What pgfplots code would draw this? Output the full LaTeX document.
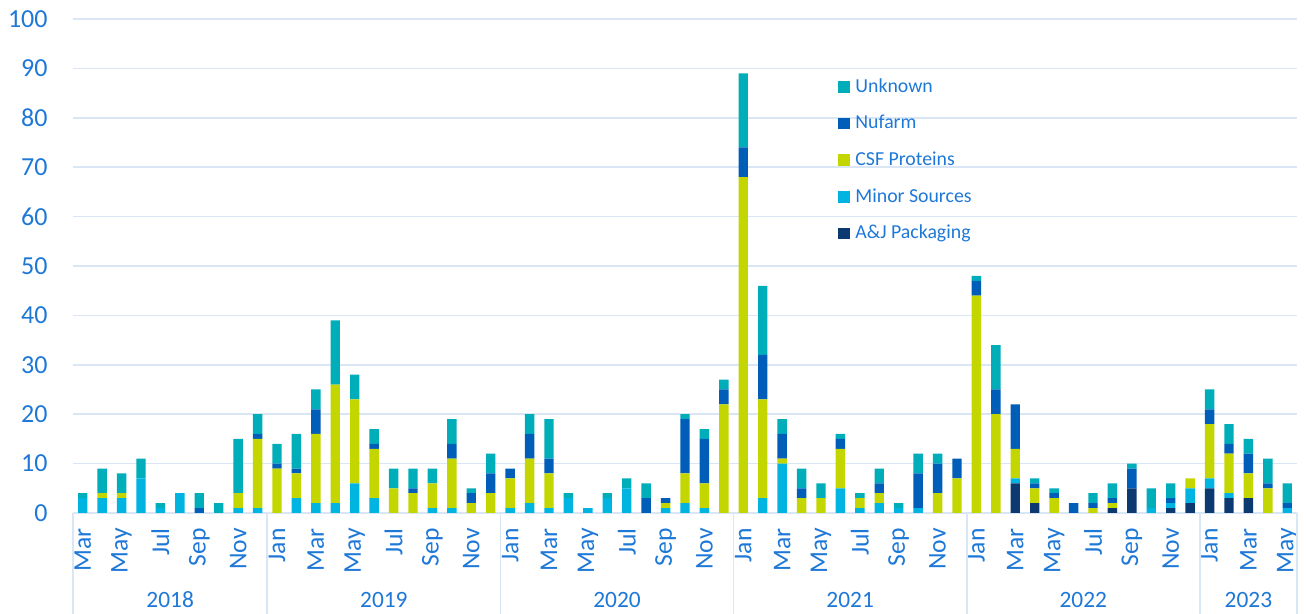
\documentclass[border=0pt]{standalone}
\usepackage{pgfplots}
\usepackage{pgfplotstable}
\pgfplotsset{compat=1.18}
\usepackage{fontspec}
\setmainfont{Carlito}
\definecolor{cUnk}{RGB}{0,174,186}
\definecolor{cNuf}{RGB}{0,94,184}
\definecolor{cCSF}{RGB}{196,214,0}
\definecolor{cMin}{RGB}{0,180,226}
\definecolor{cAJ}{RGB}{12,58,112}
\definecolor{cTxt}{RGB}{30,120,215}
\definecolor{cGrid}{RGB}{217,230,245}
\pgfplotstableread{
x aj mi csf nu un
0 0 3 0 0 1
1 0 3 1 0 5
2 0 3 1 0 4
3 0 7 0 0 4
4 0 1 0 0 1
5 0 4 0 0 0
6 0 0 0 1 3
7 0 0 0 0 2
8 0 1 3 0 11
9 0 1 14 1 4
10 0 0 9 1 4
11 0 3 5 1 7
12 0 2 14 5 4
13 0 2 24 0 13
14 0 6 17 0 5
15 0 3 10 1 3
16 0 0 5 0 4
17 0 0 4 1 4
18 0 1 5 0 3
19 0 1 10 3 5
20 0 0 2 2 1
21 0 0 4 4 4
22 0 1 6 2 0
23 0 2 9 5 4
24 0 1 7 3 8
25 0 3 0 0 1
26 0 1 0 0 0
27 0 3 0 0 1
28 0 5 0 0 2
29 0 0 0 3 3
30 0 1 1 1 0
31 0 2 6 11 1
32 0 1 5 9 2
33 0 0 22 3 2
34 0 0 68 6 15
35 0 3 20 9 14
36 0 10 1 5 3
37 0 0 3 2 4
38 0 0 3 0 3
39 0 5 8 2 1
40 0 1 2 0 1
41 0 2 2 2 3
42 0 1 0 0 1
43 0 1 0 7 4
44 0 0 4 6 2
45 0 0 7 4 0
46 0 0 44 3 1
47 0 0 20 5 9
48 6 1 6 9 0
49 2 0 3 1 1
50 0 0 3 1 1
51 0 0 0 2 0
52 0 0 1 1 2
53 1 0 1 1 3
54 5 0 0 4 1
55 0 1 0 0 4
56 1 1 0 1 3
57 2 3 2 0 0
58 5 2 11 3 4
59 3 1 8 2 4
60 3 0 5 4 3
61 0 0 5 1 5
62 0 1 0 1 4
}\data
\pgfplotsset{sqleg/.style={legend image code/.code={\fill[##1] (0pt,-2.9pt) rectangle (5.8pt,2.9pt);}}}
\tikzset{yr/.style={font=\fontsize{11.7}{14}\selectfont, text=cTxt, inner sep=0pt, yshift=-43.5pt}}
\begin{document}
\begin{tikzpicture}
\path[use as bounding box] (-36.5pt,-50.5pt) rectangle (616.5pt,256.5pt);
\begin{axis}[
  at={(0pt,0pt)}, anchor=south west,
  scale only axis, width=612pt, height=247pt,
  xmin=-0.5, xmax=62.5, ymin=0, ymax=100,
  ybar stacked, bar width=4.7pt,
  axis line style={draw=none},
  ymajorgrids, grid style={draw=cGrid, line width=0.8pt},
  ytick={0,10,...,100},
  major tick length=0pt,
  tick pos=left,
  /pgf/number format/assume math mode=true,
  yticklabel style={font=\fontsize{13}{15}\selectfont, text=cTxt, anchor=east, inner sep=0pt, xshift=-12.5pt},
  xtick={0,2,...,62},
  xticklabels={Mar,May,Jul,Sep,Nov,Jan,Mar,May,Jul,Sep,Nov,Jan,Mar,May,Jul,Sep,Nov,Jan,Mar,May,Jul,Sep,Nov,Jan,Mar,May,Jul,Sep,Nov,Jan,Mar,May},
  xticklabel style={font=\fontsize{12.8}{14}\selectfont, text=cTxt, yshift=-7.5pt, rotate=90, anchor=east, inner sep=0pt},
  extra x ticks={-0.5,9.5,21.5,33.5,45.5,57.5,62.5},
  extra x tick labels={},
  extra x tick style={major tick length=50.5pt, tick align=outside, tick style={draw=cGrid, line width=0.8pt}, xmajorgrids=false},
  clip=false,
  reverse legend,
  legend cell align=left,
  legend style={at={(0.625,0.885)}, anchor=north west, draw=none, fill=none, inner sep=0pt,
    font=\fontsize{9.9}{11}\selectfont, text=cTxt, row sep=7.6pt,
    nodes={inner sep=1.2pt}, /tikz/every odd column/.style={column sep=1.5pt}},
]
\addplot[fill=cAJ, draw=none, sqleg] table[x=x, y=aj] {\data};
\addplot[fill=cMin, draw=none, sqleg] table[x=x, y=mi] {\data};
\addplot[fill=cCSF, draw=none, sqleg] table[x=x, y=csf] {\data};
\addplot[fill=cNuf, draw=none, sqleg] table[x=x, y=nu] {\data};
\addplot[fill=cUnk, draw=none, sqleg] table[x=x, y=un] {\data};
\legend{A\&J Packaging, Minor Sources, CSF Proteins, Nufarm, Unknown}
\draw[cGrid, line width=0.8pt] (axis cs:-0.5,0) -- (axis cs:62.5,0);
\node[yr] at (axis cs:4.5,0) {2018};
\node[yr] at (axis cs:15.5,0) {2019};
\node[yr] at (axis cs:27.5,0) {2020};
\node[yr] at (axis cs:39.5,0) {2021};
\node[yr] at (axis cs:51.5,0) {2022};
\node[yr] at (axis cs:60,0) {2023};
\end{axis}
\end{tikzpicture}
\end{document}
